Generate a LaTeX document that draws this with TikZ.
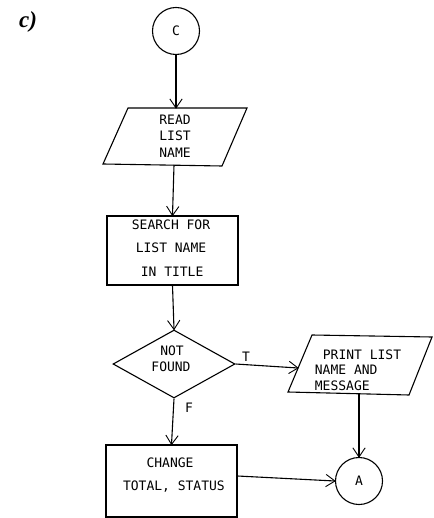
\documentclass[tikz,border=0pt]{standalone}
\usepackage{fontspec}
\newfontfamily\chartfont{DejaVu Sans Mono}
\newfontfamily\tagfont{Liberation Serif}
\usetikzlibrary{calc,shapes.geometric}

\tikzset{
  chart/.style={line width=1.1pt},
  barb/.style={line width=0.9pt, line join=miter},
  txt/.style={font=\chartfont\fontsize{13}{15.6}\selectfont, inner sep=0pt, align=center},
  connector/.style={chart, draw, circle, minimum size=47pt, inner sep=0pt, txt},
  procbox/.style={chart, draw, rectangle, inner sep=0pt},
  decision/.style={chart, draw, diamond, aspect=1.8, inner sep=0pt,
    minimum width=122pt, minimum height=68pt},
  branch/.style={font=\chartfont\fontsize{13}{15.6}\selectfont, inner sep=0pt}
}

% flow line from #1 to #2 ending in an open V head
\newcommand\flowline[2]{%
  \draw[chart] (#1) -- (#2);
  \draw[barb] ($(#2)!11pt!34:(#1)$) -- (#2) -- ($(#2)!11pt!-34:(#1)$);
}

\begin{document}
\begin{tikzpicture}[x=1pt,y=-1pt]
\useasboundingbox (0,0) rectangle (433,518);

% part label
\node[inner sep=0pt, font=\tagfont\bfseries\itshape\fontsize{23}{25}\selectfont] (tag) at (28,22) {c)};

% entry connector
\node[connector] (C) at (176,31) {C};

% input: read list name
\draw[chart] (128,108) -- (247,108) -- (222,166) -- (103,164) -- cycle;
\coordinate (readtop) at (176,108);
\coordinate (readbot) at (174,165);
\node[txt, font=\chartfont\fontsize{13}{16.5}\selectfont] (read) at (175,136) {READ\\LIST\\NAME};

% process: search for list name
\node[procbox, minimum width=131pt, minimum height=69pt] (search) at (172.5,250.5) {};
\node[txt] (searchtxt) at (171,248) {SEARCH FOR\\[8pt]LIST NAME\\[8pt]\,IN TITLE};

% decision
\node[decision] (found) at (174,364) {};
\node[txt] (foundtxt) at (171,359) {\,NOT\\FOUND};

% output: print list name and message
\draw[chart] (312,335) -- (432,337) -- (409,395) -- (288,392) -- cycle;
\coordinate (printleft) at (298,368);
\coordinate (printbot) at (359,394);
\node[txt, align=left] (print) at (358,370) {\hspace*{8pt}PRINT LIST\\NAME AND\\MESSAGE};

% process: change total, status
\node[procbox, minimum width=131pt, minimum height=72pt] (change) at (171.5,481) {};
\node[txt] (changetxt) at (170,475) {CHANGE\\[8pt]\ TOTAL, STATUS};
\coordinate (changeout) at (change.east |- 0,476);

% exit connector
\node[connector] (A) at (359,481) {A};

% branch labels
\node[branch] (T) at (246,357) {T};
\node[branch] (F) at (189,408) {F};

% flow lines
\flowline{C.south}{readtop}
\flowline{readbot}{search.north}
\flowline{search.south}{found.north}
\flowline{found.east}{printleft}
\flowline{found.south}{change.north}
\flowline{changeout}{A.west}
\flowline{printbot}{A.north}
\end{tikzpicture}
\end{document}
